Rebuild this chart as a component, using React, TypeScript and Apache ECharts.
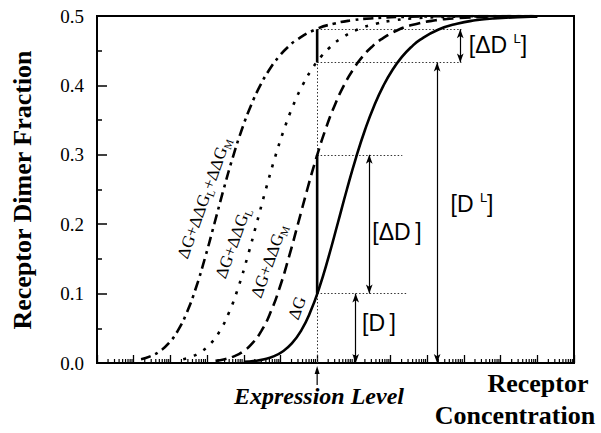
import React, { useEffect, useRef } from "react";
import * as echarts from "echarts";

// x values are log10(receptor concentration) in decades (axis has no labels)
const expressionLevel = 6.0;

// ΔG (solid)
const dgX = [4.0, 4.31, 4.56, 4.81, 5.06, 5.31, 5.56, 5.81, 6.06, 6.31, 6.56, 6.81, 7.06, 7.31, 7.56, 7.81, 8.06, 8.31, 8.56, 8.81, 9.31, 9.81, 10.31, 10.81, 11.81, 12.0];
const dgY = [0.0016, 0.0031, 0.0055, 0.0096, 0.0166, 0.0282, 0.0463, 0.073, 0.1088, 0.1526, 0.201, 0.25, 0.296, 0.3368, 0.3715, 0.4, 0.4229, 0.441, 0.455, 0.4659, 0.4805, 0.4889, 0.4938, 0.4965, 0.4989, 0.4991];

// ΔG+ΔΔG_M (dashed)
const dgmX = [3.23, 3.48, 3.73, 3.98, 4.23, 4.48, 4.73, 4.98, 5.23, 5.48, 5.73, 5.98, 6.23, 6.48, 6.73, 6.98, 7.23, 7.48, 7.73, 8.23, 8.73, 9.23, 9.73, 10.73, 11.73, 12.0];
const dgmY = [0.0031, 0.0055, 0.0096, 0.0166, 0.0282, 0.0463, 0.073, 0.1088, 0.1526, 0.201, 0.25, 0.296, 0.3368, 0.3715, 0.4, 0.4229, 0.441, 0.455, 0.4659, 0.4805, 0.4889, 0.4938, 0.4965, 0.4989, 0.4996, 0.4997];

// ΔG+ΔΔG_L (dotted)
const dglX = [2.35, 2.6, 2.85, 3.1, 3.35, 3.6, 3.85, 4.1, 4.35, 4.6, 4.85, 5.1, 5.35, 5.6, 5.85, 6.1, 6.35, 6.6, 7.1, 7.6, 8.1, 8.6, 9.6, 10.6, 12.0];
const dglY = [0.0055, 0.0096, 0.0166, 0.0282, 0.0463, 0.073, 0.1088, 0.1526, 0.201, 0.25, 0.296, 0.3368, 0.3715, 0.4, 0.4229, 0.441, 0.455, 0.4659, 0.4805, 0.4889, 0.4938, 0.4965, 0.4989, 0.4996, 0.4999];

// ΔG+ΔΔG_L+ΔΔG_M (dash-dot)
const dglmX = [1.2, 1.45, 1.7, 1.95, 2.2, 2.45, 2.7, 2.95, 3.2, 3.45, 3.7, 3.95, 4.2, 4.45, 4.7, 4.95, 5.2, 5.45, 5.95, 6.45, 6.95, 7.45, 8.45, 9.45, 12.0];
const dglmY = [0.0055, 0.0096, 0.0166, 0.0282, 0.0463, 0.073, 0.1088, 0.1526, 0.201, 0.25, 0.296, 0.3368, 0.3715, 0.4, 0.4229, 0.441, 0.455, 0.4659, 0.4805, 0.4889, 0.4938, 0.4965, 0.4989, 0.4996, 0.4999];

// dimer levels at the expression level
const levelD = 0.1; // [D]
const levelDplusDelta = 0.3; // [D]+[ΔD]
const levelDL = 0.433; // [D^L]
const levelDLplusDelta = 0.481; // [D^L]+[ΔD^L]

// annotation arrow positions (decades) and guide-line ends
const arrowDX = 7.05;
const arrowDeltaDX = 7.42;
const arrowDLX = 9.27;
const arrowDeltaDLX = 9.9;
const guideEndD = 8.43;
const guideEndDelta = 8.32;
const guideEndHigh = 9.93;

const yTicks = [0, 0.1, 0.2, 0.3, 0.4, 0.5];
const decades = [0, 1, 2, 3, 4, 5, 6, 7, 8, 9, 10, 11, 12];
const minorMultiples = [2, 3, 4, 5, 6, 7, 8, 9];

const zip = (xs: number[], ys: number[]) => xs.map((x, i) => [x, ys[i]]);

const SERIF = "Liberation Serif";
const SANS = "Liberation Sans";

export default function App() {
  const ref = useRef<HTMLDivElement>(null);

  useEffect(() => {
    if (!ref.current) return;
    const chart = echarts.init(ref.current, null, { renderer: "svg" });

    const minorTicks: number[][] = [];
    decades.forEach((d) => minorMultiples.forEach((k) => minorTicks.push([d + Math.log10(k), 0])));

    const curve = (name: string, data: number[][], type: any) => ({
      name,
      type: "line",
      data,
      showSymbol: false,
      symbol: "none",
      smooth: 0.5,
      clip: true,
      z: 5,
      lineStyle: { color: "#000", width: 2.6, type, cap: "butt" },
    });

    const dotted = { color: "#333", width: 1, type: [1.5, 2] };
    const arrowStyle = { color: "#000", width: 1.2, type: "solid" };

    const option: any = {
      animation: false,
      backgroundColor: "#fff",
      grid: {
        left: 97,
        right: 27,
        top: 16,
        bottom: 70,
        show: true,
        borderColor: "#000",
        borderWidth: 2,
        backgroundColor: "transparent",
      },
      xAxis: {
        type: "value",
        min: 0,
        max: 13,
        interval: 1,
        axisLine: { show: true, onZero: false, lineStyle: { color: "#000", width: 2 } },
        axisTick: { show: true, inside: true, length: 8, lineStyle: { color: "#000", width: 1.3 } },
        axisLabel: { show: false },
        splitLine: { show: false },
      },
      yAxis: {
        type: "value",
        min: yTicks[0],
        max: yTicks[yTicks.length - 1],
        interval: 0.1,
        axisLine: { show: true, lineStyle: { color: "#000", width: 2 } },
        axisTick: { show: true, inside: true, length: 10, lineStyle: { color: "#000", width: 1.5 } },
        minorTick: { show: true, splitNumber: 2, length: 5, lineStyle: { color: "#000", width: 1.5 } },
        axisLabel: {
          color: "#000",
          fontFamily: SERIF,
          fontSize: 19,
          margin: 13,
          formatter: (v: number) => v.toFixed(1),
        },
        splitLine: { show: false },
      },
      series: [
        {
          type: "custom",
          data: minorTicks,
          z: 3,
          silent: true,
          renderItem: (params: any, api: any) => {
            const p = api.coord([api.value(0), 0]);
            return {
              type: "line",
              shape: { x1: p[0], y1: p[1], x2: p[0], y2: p[1] - 4 },
              style: { stroke: "#000", lineWidth: 1.2 },
            };
          },
        },
        curve("ΔG+ΔΔG_L+ΔΔG_M", zip(dglmX, dglmY), [10, 5, 3, 5]),
        curve("ΔG+ΔΔG_L", zip(dglX, dglY), [3, 8]),
        curve("ΔG+ΔΔG_M", zip(dgmX, dgmY), [11, 6]),
        curve("ΔG", zip(dgX, dgY), "solid"),
        {
          type: "line",
          data: [
            [expressionLevel, levelD],
            [expressionLevel, levelDplusDelta],
          ],
          showSymbol: false,
          symbol: "none",
          z: 6,
          lineStyle: { color: "#000", width: 2.6 },
        },
        {
          type: "line",
          data: [
            [expressionLevel, levelDL],
            [expressionLevel, levelDLplusDelta],
          ],
          showSymbol: false,
          symbol: "none",
          z: 6,
          lineStyle: { color: "#000", width: 2.6 },
        },
        {
          type: "line",
          data: [],
          z: 4,
          markLine: {
            silent: true,
            symbol: ["none", "none"],
            label: { show: false },
            lineStyle: dotted,
            data: [
              [{ coord: [expressionLevel, 0] }, { coord: [expressionLevel, levelDLplusDelta] }],
              [{ coord: [expressionLevel, levelD] }, { coord: [guideEndD, levelD] }],
              [{ coord: [expressionLevel, levelDplusDelta] }, { coord: [guideEndDelta, levelDplusDelta] }],
              [{ coord: [expressionLevel, levelDL] }, { coord: [guideEndHigh, levelDL] }],
              [{ coord: [expressionLevel, levelDLplusDelta] }, { coord: [guideEndHigh, levelDLplusDelta] }],
            ],
          },
        },
        {
          type: "line",
          data: [],
          z: 4,
          markLine: {
            silent: true,
            symbol: ["arrow", "arrow"],
            symbolSize: [5, 9],
            label: { show: false },
            lineStyle: arrowStyle,
            data: [
              [{ coord: [arrowDX, 0] }, { coord: [arrowDX, levelD] }],
              [{ coord: [arrowDeltaDX, levelD] }, { coord: [arrowDeltaDX, levelDplusDelta] }],
              [{ coord: [arrowDLX, 0] }, { coord: [arrowDLX, levelDL] }],
              [{ coord: [arrowDeltaDLX, levelDL] }, { coord: [arrowDeltaDLX, levelDLplusDelta] }],
            ],
          },
        },
      ],
    };

    chart.setOption(option);

    const base = chart.convertToPixel({ gridIndex: 0 }, [expressionLevel, 0]) as number[];
    const ex = base[0];
    const ey = base[1];

    const curveRich = {
      m: { fontFamily: SERIF, fontSize: 17, lineHeight: 20, fill: "#000" },
      s: { fontFamily: SERIF, fontSize: 11, lineHeight: 8, verticalAlign: "bottom", fill: "#000" },
    };
    const rot = (70 * Math.PI) / 180;
    const curveLabel = (x: number, y: number, text: string) => ({
      type: "text",
      x,
      y,
      rotation: rot,
      silent: true,
      style: { text, rich: curveRich, fontFamily: SERIF, fontSize: 17, textAlign: "center", textVerticalAlign: "middle", fill: "#000" },
    });

    const bracketRich = {
      m: { fontFamily: SANS, fontSize: 23, lineHeight: 26, fill: "#000" },
      u: { fontFamily: SANS, fontSize: 13, lineHeight: 12, verticalAlign: "top", fill: "#000" },
    };
    const bracketLabel = (x: number, y: number, text: string) => ({
      type: "text",
      x,
      y,
      silent: true,
      style: { text, rich: bracketRich, fontFamily: SANS, fontSize: 23, textAlign: "center", textVerticalAlign: "middle", fill: "#000" },
    });

    const plainText = (x: number, y: number, text: string, font: string, rotation = 0) => ({
      type: "text",
      x,
      y,
      rotation,
      silent: true,
      style: { text, font, textAlign: "center", textVerticalAlign: "middle", fill: "#000" },
    });

    chart.setOption({
      graphic: [
        plainText(22, 190, "Receptor Dimer Fraction", `bold 26px ${SERIF}`, Math.PI / 2),
        plainText(319, 396, "Expression Level", `italic bold 24px ${SERIF}`),
        plainText(538, 383, "Receptor", `bold 26px ${SERIF}`),
        plainText(515, 415, "Concentration", `bold 26px ${SERIF}`),
        {
          type: "line",
          silent: true,
          shape: { x1: ex, y1: ey + 22, x2: ex, y2: ey + 6 },
          style: { stroke: "#000", lineWidth: 1.2 },
        },
        {
          type: "polygon",
          silent: true,
          shape: { points: [[ex, ey + 3], [ex - 2.5, ey + 11], [ex + 2.5, ey + 11]] },
          style: { fill: "#000" },
        },
        curveLabel(204, 198, "{m|ΔG+ΔΔG}{s|L}{m|+ΔΔG}{s|M}"),
        curveLabel(233, 243, "{m|ΔG+ΔΔG}{s|L}"),
        curveLabel(269, 261, "{m|ΔG+ΔΔG}{s|M}"),
        curveLabel(297, 308, "{m|ΔG}"),
        bracketLabel(379, 323, "{m|[D\u2009]}"),
        bracketLabel(397, 232, "{m|[ΔD\u2009]}"),
        bracketLabel(472, 204, "{m|[D }{u|L}{m|]}"),
        bracketLabel(498, 45, "{m|[ΔD }{u|L}{m|]}"),
      ],
    });

    return () => chart.dispose();
  }, []);

  return <div ref={ref} style={{ width: 601, height: 433, position: "absolute", left: 0, top: 0 }} />;
}
